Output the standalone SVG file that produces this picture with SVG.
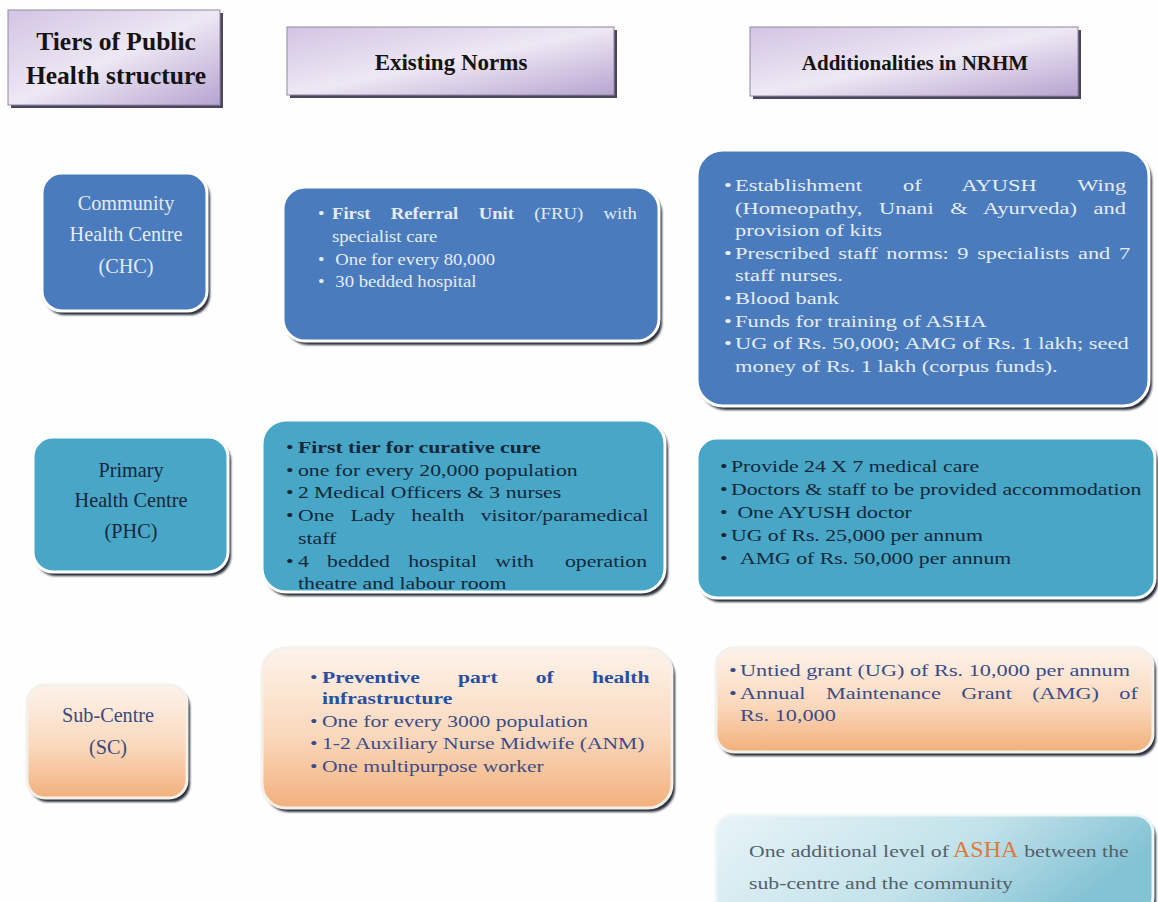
<svg xmlns="http://www.w3.org/2000/svg" width="1158" height="902" viewBox="0 0 1158 902">
<defs>
<linearGradient id="hdr" x1="0" y1="0" x2="1" y2="1">
<stop offset="0" stop-color="#d2c4e3"/>
<stop offset="0.5" stop-color="#eee8f4"/>
<stop offset="1" stop-color="#b7a4d0"/>
</linearGradient>
<linearGradient id="peach" x1="0" y1="0" x2="0" y2="1">
<stop offset="0" stop-color="#fdf3ea"/>
<stop offset="0.55" stop-color="#fad8bc"/>
<stop offset="1" stop-color="#f2b07c"/>
</linearGradient>
<linearGradient id="asha" x1="0" y1="0" x2="1" y2="0.3">
<stop offset="0" stop-color="#e8f4f7"/>
<stop offset="0.6" stop-color="#c2e2ea"/>
<stop offset="1" stop-color="#84c3d4"/>
</linearGradient>
<filter id="blur" x="-5%" y="-5%" width="115%" height="120%"><feGaussianBlur stdDeviation="1.2"/></filter>
</defs>
<style>
.t{font-family:"Liberation Serif","Times New Roman",serif;}
.hd{font-size:23px;font-weight:bold;fill:#141414;text-anchor:middle;}
.hbox{fill:url(#hdr);stroke:#9088a4;stroke-width:1;}
.hsh{fill:#4b4560;}
.shd{fill:#2b2f3a;filter:url(#blur);}
.box{stroke:#ffffff;stroke-width:3;}
.blue{fill:#4a7bbd;}
.teal{fill:#48a6c6;}
.peach{fill:url(#peach);stroke:#f4f0ea;}
.ashab{fill:url(#asha);stroke:#eef6f8;}
.lbl{font-size:22px;text-anchor:middle;}
.b{font-size:17px;}
.light{fill:#e4ecf6;}
.dark{fill:#15283a;}
.navy{fill:#3c4c88;}
.bb{font-weight:bold;}
</style>
<rect x="0" y="0" width="1158" height="902" fill="#fefefe"/>
<g id="connectors"/>

<g id="hdr-tiers">
<rect class="hsh" x="11" y="13" width="212" height="95"/>
<rect class="hbox" x="8" y="10" width="212" height="95"/>
<text class="t hd" x="116" y="50" style="font-size:25.5px">Tiers of Public</text>
<text class="t hd" x="116" y="84" style="font-size:25.5px">Health structure</text>
</g>
<g id="hdr-existing">
<rect class="hsh" x="290" y="30" width="327" height="68"/>
<rect class="hbox" x="287" y="27" width="327" height="68"/>
<text class="t hd" x="451" y="70">Existing Norms</text>
</g>
<g id="hdr-additional">
<rect class="hsh" x="753" y="30" width="328" height="69"/>
<rect class="hbox" x="750" y="27" width="328" height="69"/>
<text class="t hd" x="915" y="70" style="font-size:21px">Additionalities in NRHM</text>
</g>

<g id="chc-label">
<rect class="shd" x="45" y="177" width="165" height="138" rx="20"/>
<rect class="box blue" x="42" y="173" width="165" height="138" rx="20"/>
<g transform="translate(126,0) scale(0.92,1)" class="t lbl light">
<text x="0" y="210">Community</text>
<text x="0" y="241">Health Centre</text>
<text x="0" y="273">(CHC)</text>
</g>
</g>

<g id="chc-existing">
<rect class="shd" x="286" y="191" width="376" height="154" rx="22"/>
<rect class="box blue" x="283" y="187" width="376" height="154" rx="22"/>
<g transform="translate(332,0) scale(1.1,1)" class="t b light">
<text x="-12.7" y="219">•</text><text x="0" y="219" word-spacing="14.3"><tspan class="bb">First Referral Unit</tspan> (FRU) with</text>
<text x="0" y="242">specialist care</text>
<text x="-12.7" y="265">•</text><text x="3" y="265">One for every 80,000</text>
<text x="-12.7" y="287">•</text><text x="3" y="287">30 bedded hospital</text>
</g>
</g>

<g id="chc-additional">
<rect class="shd" x="700" y="154" width="452" height="256" rx="26"/>
<rect class="box blue" x="697" y="150" width="452" height="256" rx="26"/>
<g transform="translate(735,0) scale(1.32,1)" class="t b light">
<text x="-8.3" y="191">•</text><text x="0" y="191" word-spacing="26.8">Establishment of AYUSH Wing</text>
<text x="0" y="213.6" word-spacing="8.3">(Homeopathy, Unani &amp; Ayurveda) and</text>
<text x="0" y="236">provision of kits</text>
<text x="-8.3" y="259">•</text><text x="0" y="259" word-spacing="2.3">Prescribed staff norms: 9 specialists and 7</text>
<text x="0" y="281.5">staff nurses.</text>
<text x="-8.3" y="304">•</text><text x="0" y="304">Blood bank</text>
<text x="-8.3" y="326.6">•</text><text x="0" y="326.6">Funds for training of ASHA</text>
<text x="-8.3" y="349">•</text><text x="0" y="349">UG of Rs. 50,000; AMG of Rs. 1 lakh; seed</text>
<text x="0" y="372">money of Rs. 1 lakh (corpus funds).</text>
</g>
</g>

<g id="phc-label">
<rect class="shd" x="36" y="441" width="195" height="135" rx="20"/>
<rect class="box teal" x="33" y="437" width="195" height="135" rx="20"/>
<g transform="translate(131,0) scale(0.92,1)" class="t lbl dark">
<text x="0" y="477">Primary</text>
<text x="0" y="507">Health Centre</text>
<text x="0" y="538">(PHC)</text>
</g>
</g>

<g id="phc-existing">
<rect class="shd" x="265" y="424" width="403" height="172" rx="24"/>
<rect class="box teal" x="262" y="420" width="403" height="172" rx="24"/>
<g transform="translate(298,0) scale(1.28,1)" class="t b dark">
<text x="-9.4" y="453">•</text><text x="0" y="453" class="bb">First tier for curative cure</text>
<text x="-9.4" y="476">•</text><text x="0" y="476">one for every 20,000 population</text>
<text x="-9.4" y="498">•</text><text x="0" y="498">2<tspan dx="4">Medical Officers &amp; 3 nurses</tspan></text>
<text x="-9.4" y="521">•</text><text x="0" y="521" word-spacing="8.4">One Lady health visitor/paramedical</text>
<text x="0" y="544">staff</text>
<text x="-9.4" y="567">•</text><text x="0" y="567" word-spacing="10">4 bedded hospital with<tspan dx="10"> operation</tspan></text>
<text x="0" y="589">theatre and labour room</text>
</g>
</g>

<g id="phc-additional">
<rect class="shd" x="700" y="442" width="458" height="160" rx="20"/>
<rect class="box teal" x="697" y="438" width="458" height="160" rx="20"/>
<g transform="translate(731,0) scale(1.28,1)" class="t b dark">
<text x="-8.6" y="472">•</text><text x="0" y="472">Provide 24 X 7 medical care</text>
<text x="-8.6" y="495">•</text><text x="0" y="495">Doctors &amp; staff to be provided accommodation</text>
<text x="-8.6" y="518">•</text><text x="5" y="518">One AYUSH doctor</text>
<text x="-8.6" y="541">•</text><text x="0" y="541">UG of Rs. 25,000 per annum</text>
<text x="-8.6" y="564">•</text><text x="7" y="564">AMG of Rs. 50,000 per annum</text>
</g>
</g>

<g id="sc-label">
<rect class="shd" x="30" y="689" width="160" height="113" rx="18"/>
<rect class="box peach" x="27" y="685" width="160" height="113" rx="18"/>
<g transform="translate(108,0) scale(0.92,1)" class="t lbl" fill="#3a4a7e">
<text x="0" y="722">Sub-Centre</text>
<text x="0" y="754">(SC)</text>
</g>
</g>

<g id="sc-existing">
<rect class="shd" x="265" y="652" width="410" height="160" rx="24"/>
<rect class="box peach" x="262" y="648" width="410" height="160" rx="24"/>
<g transform="translate(322,0) scale(1.27,1)" class="t b navy">
<text x="-9.4" y="683">•</text><text x="0" y="683" word-spacing="25.8" class="bb" fill="#2b4ea0">Preventive part of health</text>
<text x="0" y="704" class="bb" fill="#2b4ea0">infrastructure</text>
<text x="-9.4" y="727">•</text><text x="0" y="727">One for every 3000 population</text>
<text x="-9.4" y="749">•</text><text x="0" y="749">1-2 Auxiliary Nurse Midwife (ANM)</text>
<text x="-9.4" y="772">•</text><text x="0" y="772">One multipurpose worker</text>
</g>
</g>

<g id="sc-additional">
<rect class="shd" x="719" y="652" width="437" height="104" rx="18"/>
<rect class="box peach" x="716" y="648" width="437" height="104" rx="18"/>
<g transform="translate(740,0) scale(1.31,1)" class="t b navy">
<text x="-8.4" y="676">•</text><text x="0" y="676">Untied grant (UG) of Rs. 10,000 per annum</text>
<text x="-8.4" y="699">•</text><text x="0" y="699" word-spacing="11.3">Annual Maintenance Grant (AMG) of</text>
<text x="0" y="721">Rs. 10,000</text>
</g>
</g>

<g id="asha-level">
<rect class="shd" x="719" y="819" width="437" height="100" rx="18"/>
<rect class="box ashab" x="716" y="815" width="437" height="100" rx="18"/>
<g transform="translate(749,0) scale(1.28,1)" class="t b" fill="#55606a">
<text x="0" y="857">One additional level of</text>
<text x="215" y="857">between the</text>
<text x="0" y="889">sub-centre and the community</text>
</g>
<text class="t" x="953" y="857" font-size="24" fill="#e0783a">ASHA</text>
</g>
</svg>
